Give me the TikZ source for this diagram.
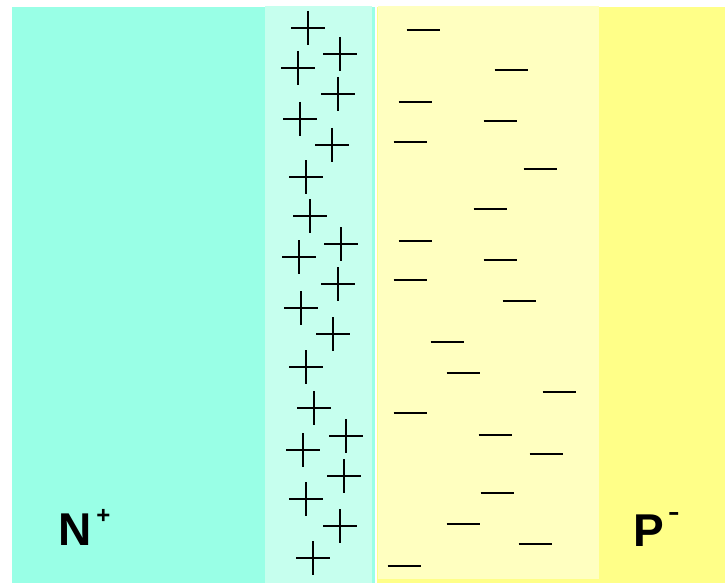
\documentclass[tikz,border=0pt]{standalone}
\usepackage{fontspec}
\setmainfont{Liberation Sans}
\definecolor{ncyan}{HTML}{99FFE6}
\definecolor{dcyan}{HTML}{C6FFEE}
\definecolor{pyellow}{HTML}{FFFF88}
\definecolor{dyellow}{HTML}{FFFFC0}
\tikzset{
  charge/.style={line width=1.5pt, black},
  donor/.pic={\draw[charge] (-17,0) -- (17,0) (0,-17) -- (0,17);},
  acceptor/.pic={\draw[charge] (-16.5,0) -- (16.5,0);},
  label/.style={inner sep=0pt, anchor=base west, font=\bfseries\fontsize{46}{50}\selectfont}
}
\begin{document}
\begin{tikzpicture}[x=1pt, y=-1pt]
\useasboundingbox (0,0) rectangle (725,583);
% neutral n+ side
\fill[ncyan] (12,7) rectangle (265,583);
% ionised donors in the depletion layer
\fill[dcyan] (265,6) rectangle (372,583);
\fill[ncyan] (372,7) rectangle (375,583);
% p- side and its depletion layer
\fill[pyellow] (377,7) rectangle (725,583);
\fill[dyellow] (378,6) rectangle (598.5,579);

% positive space charge
\foreach \x/\y in {308/28, 340/54, 298/68, 338/94, 300/119, 332/145, 306/177,
  310/216, 341/244, 299/257, 338/284, 301/308, 333/334, 306/367, 314/408,
  346/436, 303/450, 344/476, 306/499, 340/526, 313/558}
  \pic at (\x,\y) {donor};

% negative space charge
\foreach \x/\y in {423/30, 511/70, 415/102, 500/121, 410/142, 540/169,
  490/209, 415/241, 500/260, 410/280, 519/301, 447/342, 463/373, 559/392,
  410/413, 495/435, 546/454, 497/493, 463/524, 535/544, 404/566}
  \pic at (\x,\y) {acceptor};

\node[label] (nplus) at (58,545) {N\kern5pt\raisebox{22pt}{\fontsize{24}{24}\selectfont +}};
\node[label] (pminus) at (633,546) {P\kern4pt\raisebox{23pt}{\mdseries\fontsize{36}{36}\selectfont -}};
\end{tikzpicture}
\end{document}
